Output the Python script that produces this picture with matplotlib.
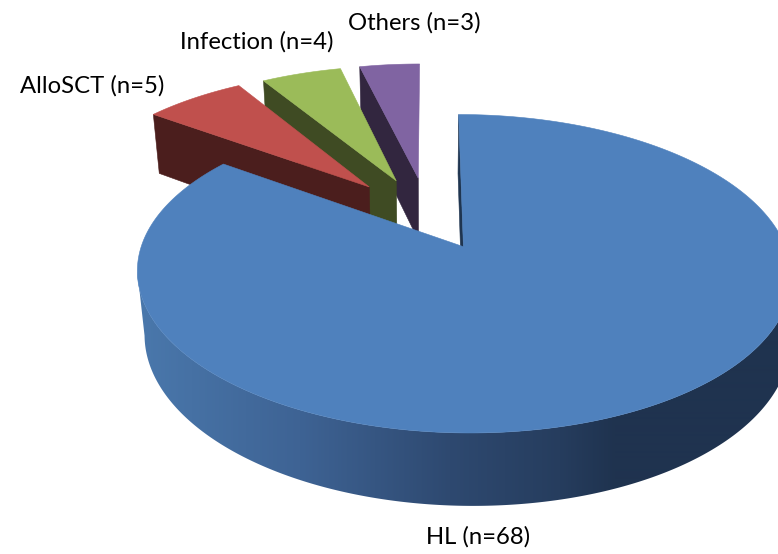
import numpy as np
import matplotlib
matplotlib.use("Agg")
import matplotlib.pyplot as plt
from matplotlib.patches import Polygon

names = ["HL", "AlloSCT", "Infection", "Others"]
counts = [68, 5, 4, 3]
top_colors = ["#4F81BD", "#C0504D", "#9BBB59", "#8064A2"]
side_colors = ["#1F3550", "#4B1E1D", "#3F4B23", "#32263F"]
explode = [0.225, 0.29, 0.28, 0.28]

# label anchors in pixels, left edge / vertical centre
label_pos = [(426, 537), (20, 86), (180, 42), (348, 23)]

# camera fitted to the picture
Y0, H, K = 216.7, 144.6, 0.1644
SMALL_CAM = dict(x0=428.0, r=309.0, depth=65.7, m=0.025, shift=0.0)
BIG_CAM = dict(x0=430.5, r=311.6, depth=62.0, m=0.012, shift=3.5)
BIG_FACE_CAM = dict(x0=430.5, r=311.6, depth=65.7, m=0.025, shift=0.0)

W, HT = 778, 554


def project(u, v, z, cam):
    w = 1 + K * v + cam["m"] * z
    return cam["x0"] + cam["shift"] * z + cam["r"] * u / w, Y0 + (-H * v + cam["depth"] * z) / w


def rim_gradient(ax, poly):
    # side of the big slice gets darker from left to right
    xs = [137, 300, 450, 560, 615]
    r = np.interp(np.arange(W), xs, [74, 62, 46, 38, 31])
    g = np.interp(np.arange(W), xs, [120, 99, 73, 61, 51])
    b = np.interp(np.arange(W), xs, [172, 148, 112, 94, 79])
    grad = np.dstack([r, g, b])[0:1] / 255
    im = ax.imshow(grad, extent=(0, W, HT, 0), aspect="auto", interpolation="bilinear", zorder=1)
    patch = Polygon(poly, closed=True, transform=ax.transData, fc="none", ec="none")
    ax.add_patch(patch)
    im.set_clip_path(patch)


def draw_slice(ax, start, stop, off, top, side, cam, face_cam, rim=False):
    mid = (start + stop) / 2
    cu, cv = off * np.sin(mid), off * np.cos(mid)
    t = np.linspace(start, stop, 600)
    u = cu + np.sin(t)
    v = cv + np.cos(t)
    xt, yt = project(u, v, 0, cam)

    if rim:
        # front part only, between the two widest points of the top
        xb, yb = project(u, v, 1, cam)
        a, b = np.argmax(xt), np.argmin(xt) + 1
        rim_gradient(ax, list(zip(xt[a:b], yt[a:b])) + list(zip(xb[a:b][::-1], yb[a:b][::-1])))

    # only the cut face at the start of the slice looks at the viewer
    tip_top = project(cu, cv, 0, cam)
    tip_bot = project(cu, cv, 1, face_cam)
    out_bot = project(u[0], v[0], 1, face_cam)
    face = [tip_top, (xt[0], yt[0]), out_bot, tip_bot]
    ax.add_patch(Polygon(face, closed=True, fc=side, ec=side, lw=0.4, zorder=2))

    ax.add_patch(Polygon([tip_top] + list(zip(xt, yt)), closed=True, fc=top, ec=top, lw=0.4, zorder=2))


fig = plt.figure(figsize=(7.78, 5.54), dpi=100)
ax = fig.add_axes([0, 0, 1, 1])
ax.axis("off")

edges = np.concatenate([[0], np.cumsum(counts)]) / sum(counts) * 2 * np.pi
# back slices first, the big one last
for i in [3, 2, 1]:
    draw_slice(ax, edges[i], edges[i + 1], explode[i], top_colors[i], side_colors[i], SMALL_CAM, SMALL_CAM)
draw_slice(ax, edges[0], edges[1], explode[0], top_colors[0], side_colors[0], BIG_CAM, BIG_FACE_CAM, rim=True)

ax.set_xlim(0, W)
ax.set_ylim(HT, 0)

for name, n, (lx, ly) in zip(names, counts, label_pos):
    ax.text(lx, ly, f"{name} (n={n})", family="Lato", fontsize=17.2, color="black",
            ha="left", va="center", zorder=5)

fig.savefig("out.png", dpi=100)
